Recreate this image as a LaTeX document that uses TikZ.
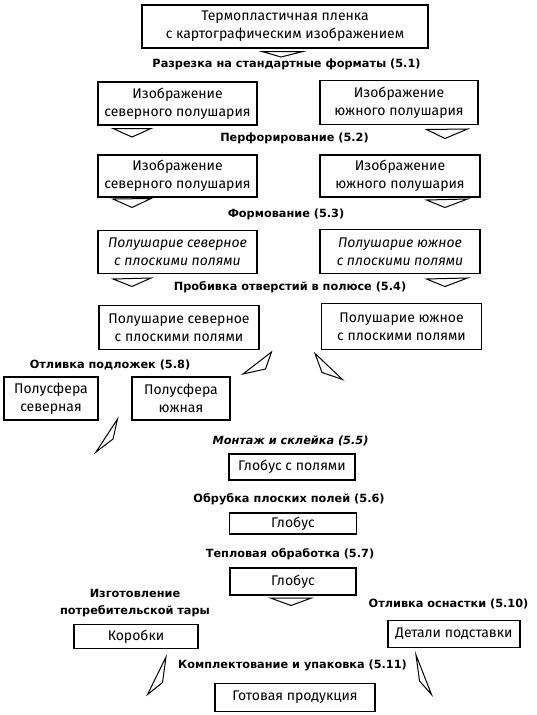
\documentclass[tikz,border=0pt]{standalone}
\usepackage{fontspec}
\setmainfont{Fira Sans}
\newfontfamily\labfont{DejaVu Sans}
\begin{document}
\begin{tikzpicture}[x=1pt,y=-1pt,
  box/.style={draw,line width=1.5pt,inner sep=0pt,align=center,font=\fontsize{14}{18}\selectfont},
  lab/.style={inner sep=0pt,align=center,font=\labfont\bfseries\fontsize{11.3}{17}\selectfont},
  tri/.style={draw,line width=1pt,line join=miter}]
\useasboundingbox (0,0) rectangle (537,715);
% row 1
\node[box,minimum width=286,minimum height=43] (t) at (285,26.5) {Термопластичная пленка\\с картографическим изображением};
\draw[tri] (262,51.5) -- (303,51.5) -- (281,57) -- cycle;
\node[lab] (l1) at (286.5,64) {Разрезка на стандартные форматы (5.1)};
% row 2
\node[box,minimum width=159,minimum height=43] (a1) at (177.5,103.5) {Изображение\\северного полушария};
\node[box,minimum width=158,minimum height=44] (b1) at (399,102.5) {Изображение\\южного полушария};
\draw[tri] (113,128.5) -- (151,128.5) -- (132,137) -- cycle;
\draw[tri] (426.5,129.5) -- (467.5,129) -- (445,138.5) -- cycle;
\node[lab] (l2) at (294.5,138.5) {Перфорирование (5.2)};
% row 3
\node[box,minimum width=159,minimum height=42] (a2) at (177.5,176) {Изображение\\северного полушария};
\node[box,minimum width=160,minimum height=42] (b2) at (400,176) {Изображение\\южного полушария};
\draw[tri] (113,199) -- (151,198.5) -- (132,207.5) -- cycle;
\draw[tri] (426.5,200) -- (467.5,199) -- (445,207.5) -- cycle;
\node[lab] (l3) at (286,214.5) {Формование (5.3)};
% row 4
\node[box,minimum width=159,minimum height=43,font=\itshape\fontsize{14}{18}\selectfont] (a3) at (177.5,252) {Полушарие северное\\с плоскими полями};
\node[box,minimum width=160,minimum height=44,font=\itshape\fontsize{14}{18}\selectfont] (b3) at (400,251.5) {Полушарие южное\\с плоскими полями};
\draw[tri] (113,279) -- (151,278) -- (132,286.5) -- cycle;
\draw[tri] (426.5,279) -- (467.5,278) -- (445,286.5) -- cycle;
\node[lab] (l4) at (290,287) {Пробивка отверстий в полюсе (5.4)};
% row 5
\node[box,minimum width=160,minimum height=44] (a4) at (179,327.5) {Полушарие северное\\с плоскими полями};
\node[box,minimum width=160,minimum height=46] (b4) at (401.5,326.5) {Полушарие южное\\с плоскими полями};
\draw[tri] (271.5,352) -- (243,374) -- (265.5,369) -- cycle;
\draw[tri] (315,353.5) -- (342.5,379.5) -- (322,372.5) -- cycle;
% substrates
\node[lab] (l8) at (110,365) {Отливка подложек (5.8)};
\node[box,minimum width=94,minimum height=43] (s1) at (51,398.5) {Полусфера\\северная};
\node[box,minimum width=98,minimum height=43] (s2) at (181,398.5) {Полусфера\\южная};
\draw[tri] (117.5,419) -- (96,452) -- (113,439) -- cycle;
% assembly
\node[lab,font=\labfont\bfseries\itshape\fontsize{11.3}{17}\selectfont] (l5) at (290.5,441) {Монтаж и склейка (5.5)};
\node[box,minimum width=126,minimum height=26] (g1) at (292,467) {Глобус с полями};
\node[lab] (l6) at (289,499.5) {Обрубка плоских полей (5.6)};
\node[box,minimum width=127,minimum height=21] (g2) at (293,523.5) {Глобус};
\node[lab] (l7) at (290,554.5) {Тепловая обработка (5.7)};
\node[box,minimum width=126,minimum height=27] (g3) at (293,581.5) {Глобус};
\draw[tri] (270.5,598) -- (311.5,598) -- (291,605.5) -- cycle;
% bottom
\node[lab] (l9) at (135,603) {Изготовление\\потребительской тары};
\node[box,minimum width=124,minimum height=24] (k) at (136,636.5) {Коробки};
\node[lab] (l10) at (448.5,604) {Отливка оснастки (5.10)};
\node[box,minimum width=132,minimum height=27] (d) at (454,634) {Детали подставки};
\draw[tri] (166,657) -- (147.5,694.5) -- (162.5,682.5) -- cycle;
\draw[tri] (416,655) -- (431.5,694.5) -- (419.5,681) -- cycle;
\node[lab] (l11) at (292.5,665) {Комплектование и упаковка (5.11)};
\node[box,minimum width=160,minimum height=28] (p) at (295,697.5) {Готовая продукция};
\end{tikzpicture}
\end{document}
